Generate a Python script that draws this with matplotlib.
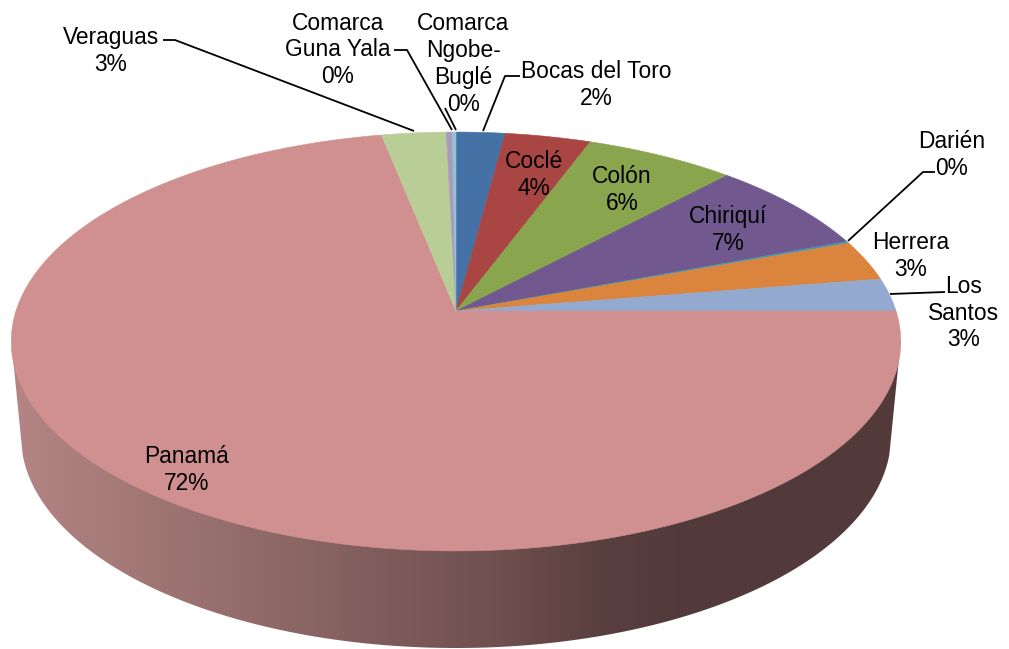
import numpy as np
import matplotlib
matplotlib.use("Agg")
import matplotlib.pyplot as plt
from matplotlib.colors import LinearSegmentedColormap
from matplotlib.patches import Polygon

# clockwise from 12 o'clock
categories = ["Bocas del Toro", "Coclé", "Colón", "Chiriquí", "Darién", "Herrera",
              "Los Santos", "Panamá", "Veraguas", "Comarca Guna Yala", "Comarca Ngobe-Buglé"]
# share of the drawn circle
shares = [2.04, 3.6, 6.3, 7.26, 0.15, 3.1, 2.55, 71.9, 2.7, 0.25, 0.15]
colors = ["#4472A6", "#A94543", "#89A54E", "#71588F", "#4198AF", "#DB843D",
          "#93A9CF", "#D09090", "#B9CD96", "#A99BBD", "#92C3D4"]
percent_labels = ["2%", "4%", "6%", "7%", "0%", "3%", "3%", "72%", "3%", "0%", "0%"]
label_text = ["Bocas del Toro", "Coclé", "Colón", "Chiriquí", "Darién", "Herrera",
              "Los\nSantos", "Panamá", "Veraguas", "Comarca\nGuna Yala", "Comarca\nNgobe-\nBuglé"]
label_xy = [(596, 85), (534, 175), (622, 190), (728, 230), (952, 155), (911, 256),
            (964, 313), (187, 470), (111, 51), (338, 50), (463, 64)]

# leader lines, picture pixels
leaders = [
    [(163, 40), (175, 40), (414, 131)],
    [(394, 50), (407, 50), (452, 130)],
    [(445, 108), (456, 130)],
    [(520, 76), (505, 76), (483, 131)],
    [(935, 172), (923, 172), (848, 241)],
    [(945, 292), (890, 294)],
]

# pie geometry
apex = (456, 311)
persp = 0.1456
scale_x, scale_y = 440, 205
low_cx, low_cy, low_rx, low_ry = 456, 436, 435, 212


def project(theta):
    # theta clockwise from the top of the circle
    w = 1 + persp * np.cos(theta)
    return apex[0] + scale_x * np.sin(theta) / w, apex[1] - scale_y * np.cos(theta) / w


fig = plt.figure(figsize=(10.09, 6.49), dpi=100)
ax = fig.add_axes([0, 0, 1, 1])
ax.set_xlim(0, 1009)
ax.set_ylim(649, 0)
ax.axis("off")

# side wall: gradient clipped to the outline under the top face
t = np.linspace(0, 2 * np.pi, 720)
tx, ty = project(t)
left, right = np.argmin(tx), np.argmax(tx)
a = np.linspace(np.radians(5), np.radians(175), 300)
wall_x = np.r_[tx[right], low_cx + low_rx * np.cos(a), tx[left]]
wall_y = np.r_[ty[right], low_cy + low_ry * np.sin(a), ty[left]]
wall = Polygon(np.c_[wall_x, wall_y], closed=True, transform=ax.transData, fc="none", ec="none")
ax.add_patch(wall)
wall_cmap = LinearSegmentedColormap.from_list(
    "wall", [(0, "#B48584"), (0.32, "#8B6665"), (0.47, "#785756"), (0.55, "#6F504E"),
             (0.66, "#5A3F3F"), (0.77, "#523A3A"), (1, "#523A3A")])
img = ax.imshow(np.linspace(0, 1, 256)[None, :], cmap=wall_cmap, extent=(12, 901, 649, 300),
                aspect="auto", zorder=1)
img.set_clip_path(wall)
ax.set_xlim(0, 1009)
ax.set_ylim(649, 0)

# top face
edges = 2 * np.pi * np.cumsum([0] + shares) / sum(shares)
for i in range(len(shares)):
    arc = np.linspace(edges[i], edges[i + 1], max(3, int((edges[i + 1] - edges[i]) * 120)))
    x, y = project(arc)
    ax.fill(np.r_[apex[0], x], np.r_[apex[1], y], color=colors[i], lw=0.4, zorder=2)

for pts in leaders:
    ax.plot(*zip(*pts), color="black", lw=1.3, zorder=3, solid_capstyle="butt")

for txt, pct, (x, y) in zip(label_text, percent_labels, label_xy):
    ax.text(x, y, txt + "\n" + pct, ha="center", va="center", fontsize=16.4,
            family="Liberation Sans", linespacing=1.22, color="black", zorder=4)

fig.savefig("out.png", dpi=100)
